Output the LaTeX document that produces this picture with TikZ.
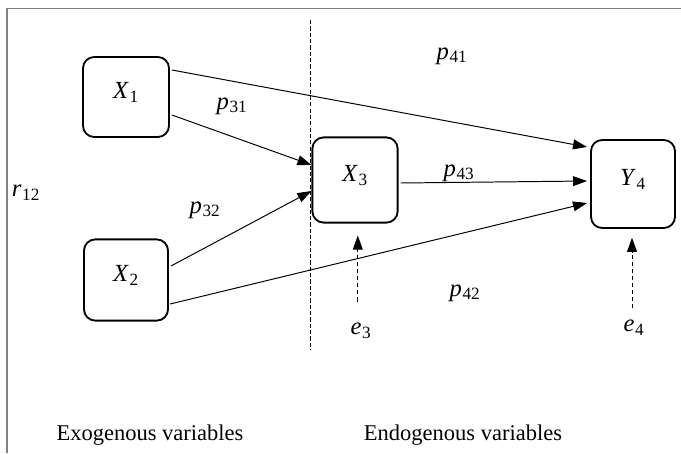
\documentclass[tikz,border=0pt]{standalone}
\usepackage{fontspec}
\setmainfont{Liberation Serif}
\usetikzlibrary{arrows.meta}
\newcommand\pv[2]{\textit{#1}\kern0.5pt\textsubscript{#2}}

\begin{document}
\begin{tikzpicture}[x=0.025cm,y=-0.025cm,
    font=\fontsize{16}{19}\selectfont,
    var/.style={draw,line width=1.3pt,rounded corners=8pt,font=\fontsize{17.5}{20}\selectfont,text height=0.7em,text depth=0.45em},
    coef/.style={font=\fontsize{17.5}{20}\selectfont},
    path/.style={line width=0.7pt,-{Triangle[length=10pt,width=7pt]}},
    err/.style={path,dash pattern=on 3pt off 2pt}]
    \useasboundingbox (0,0) rectangle (681,453);
    \draw[gray,line width=1pt] (7,453) -- (7,8.5) -- (681,8.5);
    \draw[line width=0.6pt,dash pattern=on 3pt off 1.5pt] (310,20) -- (310,350);
    % variables
    \node[var,minimum width=2.15cm,minimum height=2cm] (x1) at (126,97) {\pv{X}{1}};
    \node[var,minimum width=2.1cm,minimum height=2.03cm] (x2) at (126,280) {\pv{X}{2}};
    \node[var,minimum width=2.13cm,minimum height=2.13cm] (x3) at (355,180) {\pv{X}{3}};
    \node[var,minimum width=2.1cm,minimum height=2.2cm] (y4) at (633,184) {\pv{Y}{4}};
    % paths
    \draw[path] ([xshift=0.05cm,yshift=0.675cm]x1.east) -- ([xshift=-0.075cm,yshift=0.925cm]y4.west);
    \draw[path] ([xshift=0.05cm,yshift=-0.45cm]x1.east) -- ([yshift=0.375cm]x3.west);
    \draw[path] ([xshift=0.05cm,yshift=0.35cm]x2.east) -- ([yshift=-0.275cm]x3.west);
    \draw[path] ([xshift=0.03cm,yshift=-0.6cm]x2.east) -- ([xshift=-0.075cm,yshift=-0.475cm]y4.west);
    \draw[path] ([xshift=0.05cm,yshift=-0.075cm]x3.east) -- ([xshift=-0.075cm,yshift=0.075cm]y4.west);
    % coefficients
    \node[coef] (p31) at (232,106) {\pv{p}{31}};
    \node[coef] (p32) at (205,210) {\pv{p}{32}};
    \node[coef] (p41) at (452,56) {\pv{p}{41}};
    \node[coef] (p43) at (459,173) {\pv{p}{43}};
    \node[coef] (p42) at (465,293) {\pv{p}{42}};
    \node[coef] (r12) at (26,193) {\pv{r}{12}};
    % errors
    \node[coef] (e3) at (361,331) {\pv{e}{3}};
    \node[coef] (e4) at (634,328) {\pv{e}{4}};
    \draw[err,shorten <=0.42cm,shorten >=0.3cm] ([xshift=-0.08cm]e3.north) -- ([xshift=-0.08cm]e3.north |- x3.south);
    \draw[err,shorten <=0.18cm,shorten >=0.22cm] ([xshift=-0.05cm]e4.north) -- ([xshift=-0.05cm]e4.north |- y4.south);
    \node (exo) at (150,435) {Exogenous variables};
    \node (endo) at (463,435) {Endogenous variables};
\end{tikzpicture}
\end{document}
